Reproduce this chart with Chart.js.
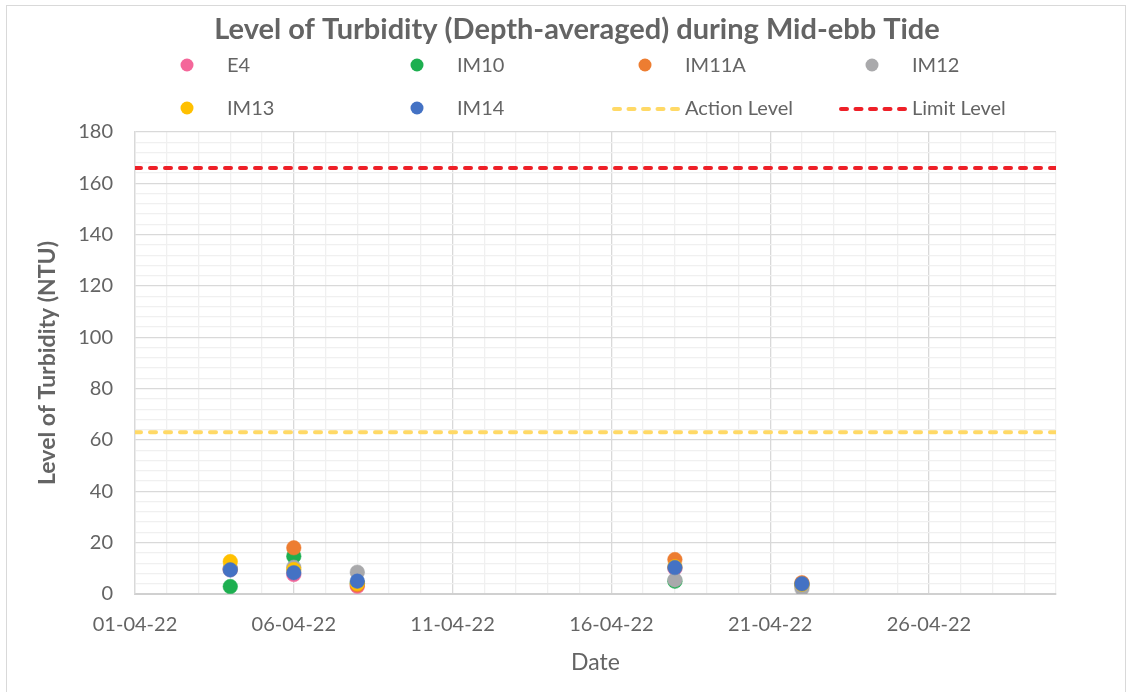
<!DOCTYPE html>
<html>
<head>
<meta charset="utf-8">
<script src="https://cdn.jsdelivr.net/npm/chart.js@4.4.1/dist/chart.umd.min.js"></script>
<style>
  html, body { margin: 0; padding: 0; background: #ffffff; }
  #wrap { position: relative; width: 1128px; height: 692px; overflow: hidden; }
  #frame { position: absolute; left: 6px; top: 5px; width: 1120px; height: 720px; border: 1.5px solid #d9d9d9; box-sizing: border-box; pointer-events: none; }
  canvas { position: absolute; left: 0; top: 0; }
</style>
</head>
<body>
<div id="wrap">
  <canvas id="c" width="1128" height="692"></canvas>
  <div id="frame"></div>
</div>
<script>
// ---- Data ----
const chartTitle = 'Level of Turbidity (Depth-averaged) during Mid-ebb Tide';
const sampleDates = ['04-04-22', '06-04-22', '08-04-22', '18-04-22', '22-04-22'];
const seriesNames = ['E4', 'IM10', 'IM11A', 'IM12', 'IM13', 'IM14'];
const E4    = [9.5, 7.6, 3.0, 10.0, 3.5];
const IM10  = [2.9, 14.7, 4.2, 5.0, 3.6];
const IM11A = [9.8, 18.0, 3.5, 13.4, 4.4];
const IM12  = [10.0, 10.4, 8.5, 5.5, 2.1];
const IM13  = [12.6, 9.5, 4.1, 10.6, 3.8];
const IM14  = [9.4, 8.3, 5.0, 10.3, 4.0];
const actionLevel = 63;
const limitLevel = 166;
const xTickLabels = ['01-04-22', '06-04-22', '11-04-22', '16-04-22', '21-04-22', '26-04-22'];
const yTickLabels = [0, 20, 40, 60, 80, 100, 120, 140, 160, 180];
const xRange = ['01-04-22', '30-04-22'];

// ---- Styling ----
const seriesColors = ['#F4679A', '#1DAF50', '#ED7D31', '#A9A9AB', '#FFC000', '#4472C4'];
const textColor = '#646464';
const FONT = 'Lato';

function dayOf(s) { return parseInt(s.slice(0, 2), 10); }
function pts(vals) { return sampleDates.map((d, i) => ({ x: dayOf(d), y: vals[i] })); }

const seriesVals = [E4, IM10, IM11A, IM12, IM13, IM14];
const datasets = seriesVals.map((vals, i) => ({
  type: 'scatter',
  label: seriesNames[i],
  data: pts(vals),
  backgroundColor: seriesColors[i],
  borderColor: seriesColors[i],
  pointRadius: 7.3,
  pointBorderWidth: 0.5,
  order: seriesVals.length - i + 1
}));
const xMin = dayOf(xRange[0]), xMax = dayOf(xRange[1]);
datasets.push({
  type: 'line', label: 'Action Level',
  data: [{ x: xMin, y: actionLevel }, { x: xMax, y: actionLevel }],
  borderColor: '#FFD966', backgroundColor: '#FFD966',
  borderWidth: 4, borderDash: [6, 9], borderCapStyle: 'round',
  pointRadius: 0, order: 0, isLine: true
});
datasets.push({
  type: 'line', label: 'Limit Level',
  data: [{ x: xMin, y: limitLevel }, { x: xMax, y: limitLevel }],
  borderColor: '#EE2028', backgroundColor: '#EE2028',
  borderWidth: 4, borderDash: [6, 9], borderCapStyle: 'round',
  pointRadius: 0, order: 0, isLine: true
});

// Title and legend (4 columns x 2 rows) drawn like the reference
const headerPlugin = {
  id: 'header',
  afterDraw(chart) {
    const ctx = chart.ctx;
    ctx.save();
    ctx.fillStyle = textColor;
    ctx.font = 'bold 29px ' + FONT;
    ctx.textAlign = 'center';
    ctx.textBaseline = 'middle';
    ctx.fillText(chartTitle, 577, 30);

    const textXs = [227, 457, 685, 912];
    const rowYs = [66, 109];
    ctx.font = '20px ' + FONT;
    ctx.textAlign = 'left';
    chart.data.datasets.forEach((ds, i) => {
      const col = i % 4, row = Math.floor(i / 4);
      const tx = textXs[col], y = rowYs[row];
      if (ds.isLine) {
        ctx.save();
        ctx.strokeStyle = ds.borderColor;
        ctx.lineWidth = 4;
        ctx.lineCap = 'round';
        ctx.setLineDash([6, 8.5]);
        ctx.beginPath();
        ctx.moveTo(tx - 71, y);
        ctx.lineTo(tx - 6, y);
        ctx.stroke();
        ctx.restore();
      } else {
        ctx.fillStyle = ds.backgroundColor;
        ctx.beginPath();
        ctx.arc(tx - 40, y - 1, 6.5, 0, Math.PI * 2);
        ctx.fill();
      }
      ctx.fillStyle = textColor;
      ctx.fillText(ds.label, tx, y);
    });
    ctx.restore();
  }
};

const majorGrid = '#d9d9d9', minorGrid = '#f0f0f0';

new Chart(document.getElementById('c'), {
  type: 'scatter',
  data: { datasets },
  plugins: [headerPlugin],
  options: {
    responsive: false,
    animation: false,
    layout: { padding: { left: 0, right: 72, top: 132, bottom: 0 } },
    plugins: {
      legend: { display: false },
      tooltip: { enabled: false },
      title: { display: false }
    },
    scales: {
      x: {
        type: 'linear',
        min: xMin, max: xMax,
        afterFit(scale) { scale.height = 98; },
        ticks: {
          stepSize: 1, maxTicksLimit: 100, autoSkip: false, maxRotation: 0,
          padding: 19, color: textColor,
          font: { family: FONT, size: 20 },
          callback(v) {
            const lbl = xTickLabels.find(l => dayOf(l) === v);
            return lbl || '';
          }
        },
        grid: {
          drawTicks: false,
          lineWidth: 1.3,
          color(c) { return (c.tick && xTickLabels.some(l => dayOf(l) === c.tick.value)) ? majorGrid : minorGrid; }
        },
        border: { display: true, color: '#d0d0d0', width: 2 },
        title: {
          display: true, text: 'Date', color: textColor,
          font: { family: FONT, size: 23, lineHeight: 1.2 },
          padding: { top: 0, bottom: 16 }
        }
      },
      y: {
        min: 0, max: 180,
        afterFit(scale) { scale.width = 135; },
        ticks: {
          stepSize: 4, maxTicksLimit: 100, autoSkip: false, padding: 22, color: textColor,
          font: { family: FONT, size: 20 },
          callback(v) { return yTickLabels.includes(v) ? String(v) : ''; }
        },
        grid: {
          drawTicks: false,
          lineWidth: 1.3,
          color(c) { return (c.tick && yTickLabels.includes(c.tick.value)) ? majorGrid : minorGrid; }
        },
        border: { display: true, color: '#d9d9d9', width: 1.3 },
        title: {
          display: true, text: 'Level of Turbidity (NTU)', color: textColor,
          font: { family: FONT, size: 23, weight: 'bold', lineHeight: 1.2 },
          padding: { top: 34, bottom: 0 }
        }
      }
    }
  }
});
</script>
</body>
</html>
